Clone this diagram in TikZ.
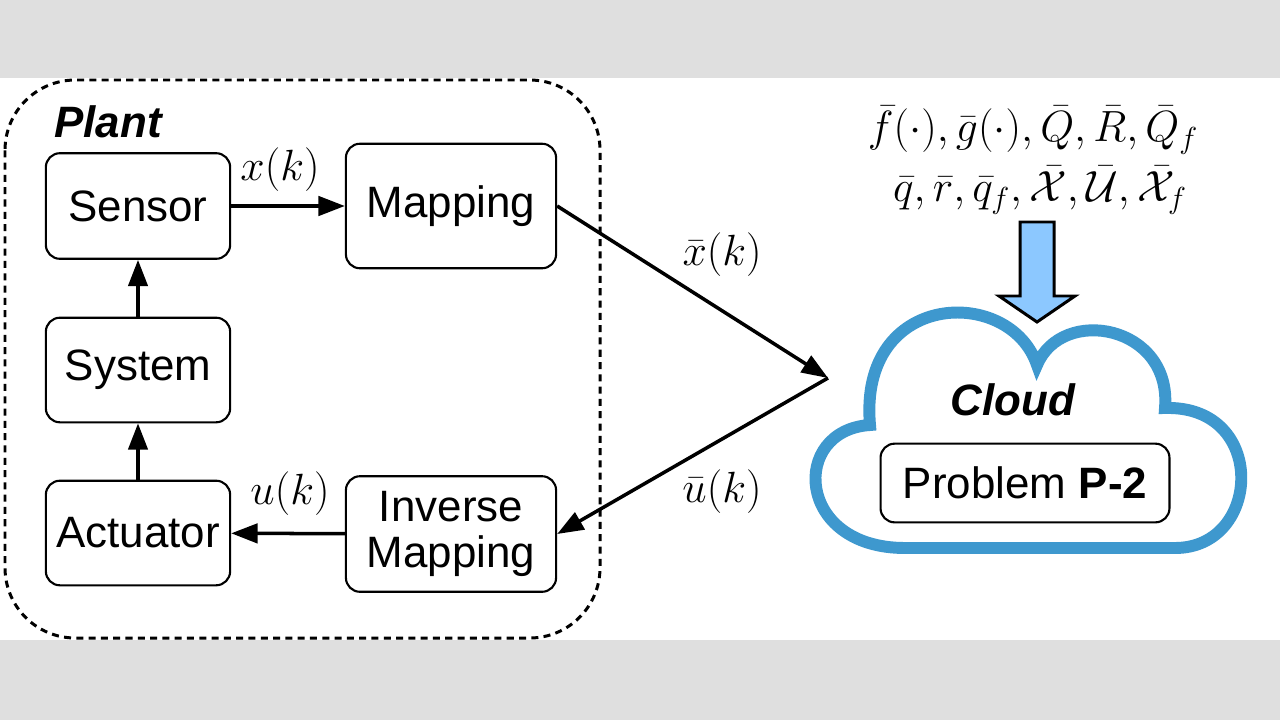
\documentclass[tikz,border=0pt]{standalone}
\usepackage{fontspec}
\setmainfont{Liberation Sans}
\usetikzlibrary{arrows.meta}
\begin{document}
\begin{tikzpicture}[x=0.02cm,y=-0.02cm,
 box/.style={draw,line width=1.2pt,rounded corners=8pt,fill=white,font=\fontsize{25}{27}\selectfont,align=center},
 arr/.style={line width=2pt,-{Triangle[length=15pt,width=11pt]}},
 lab/.style={font=\fontsize{25}{28}\selectfont}]
\fill[gray!25!white] (0,0) rectangle (1280,720);
\fill[white] (0,78) rectangle (1280,640);
\useasboundingbox (0,0) rectangle (1280,720);
\draw[line width=1.7pt,dash pattern=on 4pt off 3pt,rounded corners=40pt] (5,80) rectangle (600,638);
\node[font=\fontsize{25}{28}\selectfont\bfseries\itshape] (plant) at (108,122) {Plant};
\node[box,minimum width=185*0.567pt,minimum height=106*0.567pt] (sensor) at (138,206) {Sensor};
\node[box,minimum width=185*0.567pt,minimum height=105*0.567pt] (system) at (138,370) {System};
\node[box,minimum width=185*0.567pt,minimum height=105*0.567pt] (act) at (138,533) {Actuator};
\node[box,minimum width=211*0.567pt,minimum height=125*0.567pt] (map) at (451,206) {Mapping};
\node[box,minimum width=211*0.567pt,minimum height=116*0.567pt,inner sep=1pt] (inv) at (451,534) {Inverse\\[-1pt]Mapping};
\draw[arr] (sensor) -- (map);
\node[lab] (xk) at (280,170) {$x(k)$};
\draw[arr] (system) -- (sensor);
\draw[arr] (act) -- (system);
\draw[arr] (inv) -- (act);
\node[lab] (uk) at (290,494) {$u(k)$};
% cloud
\coordinate (cl) at (828,378);
\draw[line width=6.8pt,draw={rgb,255:red,62;green,152;blue,206},fill=white]
 (905,548) -- (1175,548)
 .. controls (1262,548) and (1268,405) .. (1165,408)
 .. controls (1172,325) and (1062,305) .. (1037,365)
 .. controls (1010,285) and (858,290) .. (870,425)
 .. controls (790,430) and (795,548) .. (905,548) -- cycle;
\node[font=\fontsize{25}{28}\selectfont\bfseries\itshape] (cloud) at (1013,400) {Cloud};
\node[box,minimum width=290*0.567pt,minimum height=79*0.567pt] (prob) at (1025,483) {Problem \textbf{P-2}};
\draw[arr] (map.east) -- (cl);
\draw[arr] (cl) -- (inv.east);
\node[lab] (xb) at (722,255) {$\bar{x}(k)$};
\node[lab] (ub) at (722,492) {$\bar{u}(k)$};
% parameters
\node[font=\fontsize{27}{30}\selectfont] (p1) at (1033,130) {$\bar f(\cdot),\bar g(\cdot),\bar Q,\bar R,\bar Q_f$};
\node[font=\fontsize{27}{30}\selectfont] (p2) at (1040,190) {$\bar q,\bar r,\bar q_f,\bar{\mathcal X},\bar{\mathcal U},\bar{\mathcal X}_f$};
\draw[line width=1.7pt,fill={rgb,255:red,140;green,200;blue,255}]
 (1020,222) -- (1054,222) -- (1054,296) -- (1075,296) -- (1037,322) -- (999,296) -- (1020,296) -- cycle;
\end{tikzpicture}
\end{document}
